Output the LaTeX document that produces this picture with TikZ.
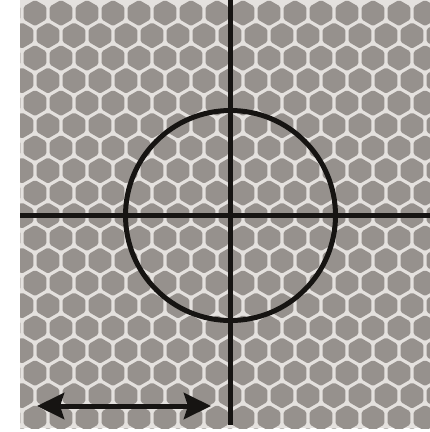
\documentclass[tikz,border=0pt]{standalone}
\usetikzlibrary{arrows.meta}
\definecolor{plate}{RGB}{150,145,141}
\definecolor{hexline}{RGB}{228,225,222}
\definecolor{ink}{RGB}{22,20,18}
\tikzset{
  hexcell/.style={fill=plate, rounded corners=1.5pt},
  hairline/.style={draw=ink, line width=5pt},
  ringstyle/.style={circle, draw=ink, line width=5pt, inner sep=0pt, minimum size=210pt},
  scalearrow/.style={draw=ink, line width=5pt,
    {Stealth[length=27pt,width=26pt,inset=4pt]}-{Stealth[length=27pt,width=26pt,inset=4pt]}}
}
\begin{document}
\begin{tikzpicture}[x=1pt,y=-1pt]
\useasboundingbox (0,0) rectangle (430,432);
\fill[white] (0,0) rectangle (430,432);
\fill[hexline] (20,0) rectangle (430,428);
\begin{scope}
  \clip (20,0) rectangle (430,428);
  \foreach \j in {0,...,20}{
    \foreach \i in {-1,...,16}{
      \pgfmathsetmacro\cx{35+26*\i+13*mod(\j,2)}
      \pgfmathsetmacro\cy{13+22.5*\j}
      \path[hexcell] (\cx,\cy) +(0pt,-13pt) -- +(11.26pt,-6.5pt) -- +(11.26pt,6.5pt) -- +(0pt,13pt) -- +(-11.26pt,6.5pt) -- +(-11.26pt,-6.5pt) -- cycle;
    }
  }
\end{scope}
% crosshair
\coordinate (vtop) at (230.5,0);
\coordinate (vbot) at (230.5,425);
\coordinate (hleft) at (20,215.5);
\coordinate (hright) at (430,215.5);
\path[hairline] (vtop) -- (vbot);
\path[hairline] (hleft) -- (hright);
\node[ringstyle] (ring) at (230.5,215.5) {};
% scale arrow
\coordinate (aleft) at (37,406);
\coordinate (aright) at (211,406);
\path[scalearrow] (aleft) -- (aright);
\end{tikzpicture}
\end{document}
